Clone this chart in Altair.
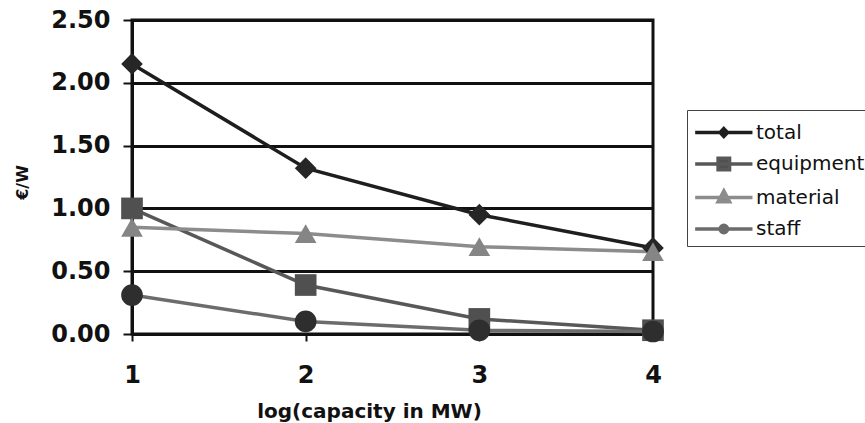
import altair as alt
import pandas as pd

# ---- data ----
capacity_log = [1, 2, 3, 4]
series_names = ["total", "equipment", "material", "staff"]
total = [2.15, 1.32, 0.95, 0.685]
equipment = [1.00, 0.39, 0.12, 0.03]
material = [0.85, 0.80, 0.695, 0.655]
staff = [0.31, 0.10, 0.03, 0.02]
y_ticks = [0.0, 0.5, 1.0, 1.5, 2.0, 2.5]
x_ticks = [1, 2, 3, 4]

line_colors = ["#1e1e1e", "#585858", "#8c8c8c", "#6c6c6c"]
marker_colors = ["#262626", "#505050", "#858585", "#2e2e2e"]
marker_shapes = ["diamond", "square", "triangle-up", "circle"]

# legend symbols: a line with the marker in the middle (symbol units)
legend_paths = [
    "M-1,0 L3,0 M1,-0.27 L1.26,0 L1,0.27 L0.74,0 Z",
    "M-1,0 L3,0 M0.6,-0.4 L1.4,-0.4 L1.4,0.4 L0.6,0.4 Z",
    "M-1,0 L3,0 M1,-0.46 L1.4,0.3 L0.6,0.3 Z",
    "M-1,0 L3,0 M1.26,0 A0.26,0.26 0 1,1 0.74,0 A0.26,0.26 0 1,1 1.26,0 Z",
]

rows = []
for name, vals in zip(series_names, [total, equipment, material, staff]):
    for x, v in zip(capacity_log, vals):
        rows.append({"x": x, "value": v, "series": name})
df = pd.DataFrame(rows)

FONT = "DejaVu Sans"

legend = alt.Legend(
    title=None, orient="none", legendX=555, legendY=90,
    padding=6, symbolSize=821, symbolStrokeWidth=3.5, symbolOpacity=1,
    labelFont=FONT, labelFontSize=20, labelColor="#111",
    labelOffset=30, rowPadding=3.5,
    strokeColor="#444", fillColor="white",
)

x_enc = alt.X(
    "x:Q",
    scale=alt.Scale(domain=[1, 4], nice=False, zero=False),
    axis=alt.Axis(
        values=x_ticks, format="d", title="log(capacity in MW)",
        grid=False, domain=False, ticks=True, tickSize=7, tickWidth=2, tickColor="#111",
        labelFont=FONT, labelFontWeight="bold", labelFontSize=24, labelColor="#111",
        labelPadding=22, labelFlush=False,
        titleFont=FONT, titleFontWeight="bold", titleFontSize=20, titleColor="#111",
        titleX=237, titleY=83, titleBaseline="alphabetic", titleAlign="center",
    ),
)
y_enc = alt.Y(
    "value:Q",
    scale=alt.Scale(domain=[0, 2.5], nice=False),
    axis=alt.Axis(
        values=y_ticks, format=".2f", title="€/W",
        grid=True, gridColor="#111", gridWidth=3, gridOpacity=1,
        domain=True, domainColor="#111", domainWidth=3,
        ticks=True, tickSize=9, tickWidth=2, tickColor="#111",
        labelFont=FONT, labelFontWeight="bold", labelFontSize=24, labelColor="#111",
        labelPadding=13, labelBaseline="middle", labelFlush=False,
        titleFont=FONT, titleFontWeight="bold", titleFontSize=16, titleColor="#111",
        titleAngle=270, titleX=-105, titleY=162, titleBaseline="alphabetic", titleAlign="center",
    ),
)

stroke_enc = alt.Stroke("series:N", sort=series_names,
                        scale=alt.Scale(domain=series_names, range=line_colors), legend=legend)
fill_enc = alt.Fill("series:N", sort=series_names,
                    scale=alt.Scale(domain=series_names, range=marker_colors), legend=legend)
shape_enc = alt.Shape("series:N", sort=series_names,
                      scale=alt.Scale(domain=series_names, range=legend_paths), legend=legend)

base = alt.Chart(df)

# invisible layer that only supplies the legend (line + marker symbols)
legend_layer = base.mark_point(filled=True, size=821, opacity=0).encode(
    x=x_enc, y=y_enc, shape=shape_enc, fill=fill_enc, stroke=stroke_enc,
)

lines = base.mark_line(strokeWidth=3.5).encode(
    x="x:Q", y="value:Q", stroke=stroke_enc,
)

point_layers = []
for name, shp in zip(series_names, marker_shapes):
    point_layers.append(
        base.transform_filter(alt.datum.series == name)
        .mark_point(filled=True, shape=shp, size=470, opacity=1, strokeWidth=0)
        .encode(x="x:Q", y="value:Q", fill=fill_enc)
    )

chart = (
    alt.layer(legend_layer, lines, *point_layers)
    .properties(
        width=521, height=314,
        autosize=alt.AutoSizeParams(type="none"),
        padding={"left": 132, "top": 20, "right": 212, "bottom": 89},
        background="white",
    )
    .configure_view(stroke="#111", strokeWidth=3)
)

chart.save("out.html", embed_options={"renderer": "svg", "actions": False})
